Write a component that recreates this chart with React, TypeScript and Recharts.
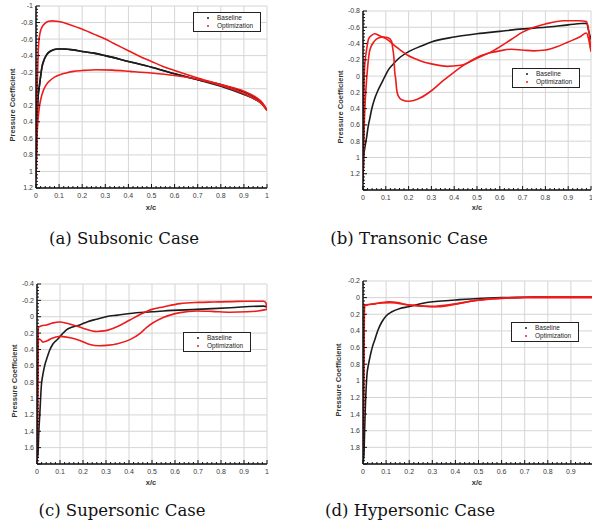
import React from 'react'
import { LineChart, Line, XAxis, YAxis, CartesianGrid, Legend } from 'recharts'

type Pt = [number, number]

// tick labels
const X_LABELS = [0, 0.1, 0.2, 0.3, 0.4, 0.5, 0.6, 0.7, 0.8, 0.9, 1]
const HYP_X_LABELS = [0, 0.1, 0.2, 0.3, 0.4, 0.5, 0.6, 0.7, 0.8, 0.9]
const SUB_Y_LABELS = [-1, -0.8, -0.6, -0.4, -0.2, 0, 0.2, 0.4, 0.6, 0.8, 1, 1.2]
const TRAN_Y_LABELS = [-0.8, -0.6, -0.4, -0.2, 0, 0.2, 0.4, 0.6, 0.8, 1, 1.2]
const SUP_Y_LABELS = [-0.4, -0.2, 0, 0.2, 0.4, 0.6, 0.8, 1, 1.2, 1.4, 1.6]
const HYP_Y_LABELS = [-0.2, 0, 0.2, 0.4, 0.6, 0.8, 1, 1.2, 1.4, 1.6, 1.8]

// (a) subsonic  [x/c, Cp]
const SUB_BASE_UPPER: Pt[] = [[0, 1.06], [0.003, 0.5], [0.006, 0.26], [0.009, 0.1], [0.014, -0.02], [0.02, -0.15], [0.025, -0.25], [0.035, -0.35], [0.046, -0.41], [0.06, -0.45], [0.075, -0.47], [0.095, -0.48], [0.12, -0.48], [0.16, -0.47], [0.2, -0.45], [0.25, -0.43], [0.3, -0.4], [0.4, -0.33], [0.5, -0.26], [0.6, -0.18], [0.7, -0.11], [0.8, -0.05], [0.9, 0.04], [0.95, 0.11], [0.98, 0.18], [1, 0.26]]
const SUB_BASE_LOWER: Pt[] = [[0, 1.06], [0.003, 0.5], [0.006, 0.26], [0.009, 0.1], [0.014, -0.02], [0.02, -0.15], [0.025, -0.25], [0.035, -0.35], [0.046, -0.41], [0.06, -0.45], [0.075, -0.47], [0.095, -0.48], [0.12, -0.48], [0.16, -0.47], [0.2, -0.45], [0.25, -0.43], [0.3, -0.4], [0.4, -0.33], [0.5, -0.26], [0.6, -0.18], [0.7, -0.11], [0.8, -0.03], [0.9, 0.07], [0.95, 0.13], [0.98, 0.19], [1, 0.26]]
const SUB_OPT_UPPER: Pt[] = [[0, 1.08], [0.002, 0.5], [0.005, 0.0], [0.008, -0.3], [0.01, -0.47], [0.017, -0.67], [0.027, -0.75], [0.039, -0.79], [0.055, -0.815], [0.07, -0.82], [0.09, -0.815], [0.118, -0.8], [0.15, -0.77], [0.19, -0.73], [0.25, -0.66], [0.3, -0.6], [0.335, -0.55], [0.4, -0.46], [0.45, -0.39], [0.5, -0.33], [0.55, -0.27], [0.6, -0.22], [0.7, -0.13], [0.8, -0.05], [0.9, 0.03], [0.95, 0.1], [0.98, 0.17], [1, 0.26]]
const SUB_OPT_LOWER: Pt[] = [[0, 1.08], [0.004, 0.62], [0.008, 0.4], [0.012, 0.28], [0.017, 0.18], [0.024, 0.09], [0.032, 0.02], [0.045, -0.05], [0.061, -0.1], [0.08, -0.14], [0.104, -0.17], [0.13, -0.19], [0.162, -0.21], [0.2, -0.22], [0.263, -0.23], [0.33, -0.225], [0.407, -0.21], [0.5, -0.19], [0.6, -0.16], [0.7, -0.115], [0.8, -0.04], [0.9, 0.06], [0.95, 0.13], [0.98, 0.19], [1, 0.26]]

// (b) transonic
const TRAN_BASE: Pt[] = [[0, 1.3], [0.003, 1.0], [0.01, 0.85], [0.016, 0.75], [0.022, 0.63], [0.03, 0.52], [0.037, 0.42], [0.051, 0.28], [0.065, 0.18], [0.081, 0.09], [0.095, 0.01], [0.11, -0.07], [0.13, -0.14], [0.154, -0.21], [0.2, -0.3], [0.256, -0.37], [0.3, -0.42], [0.4, -0.48], [0.5, -0.52], [0.6, -0.55], [0.7, -0.58], [0.8, -0.6], [0.9, -0.63], [0.981, -0.65], [0.99, -0.55], [1, -0.45]]
const TRAN_OPT_A: Pt[] = [[0, 1.3], [0.002, 0.6], [0.004, 0.2], [0.007, -0.11], [0.015, -0.31], [0.025, -0.46], [0.038, -0.5], [0.051, -0.52], [0.07, -0.5], [0.1, -0.46], [0.15, -0.35], [0.2, -0.25], [0.25, -0.19], [0.3, -0.15], [0.37, -0.12], [0.42, -0.13], [0.45, -0.15], [0.5, -0.22], [0.57, -0.31], [0.65, -0.45], [0.7, -0.54], [0.75, -0.6], [0.8, -0.64], [0.88, -0.68], [0.95, -0.68], [0.98, -0.67], [0.99, -0.56], [1, -0.31]]
const TRAN_OPT_B: Pt[] = [[0, 1.3], [0.003, 0.9], [0.006, 0.55], [0.012, 0.2], [0.02, -0.1], [0.03, -0.32], [0.05, -0.43], [0.07, -0.47], [0.09, -0.48], [0.11, -0.47], [0.125, -0.43], [0.13, -0.35], [0.136, -0.21], [0.139, -0.06], [0.144, 0.05], [0.147, 0.15], [0.154, 0.24], [0.17, 0.29], [0.2, 0.31], [0.25, 0.27], [0.3, 0.18], [0.35, 0.06], [0.4, -0.05], [0.45, -0.15], [0.5, -0.23], [0.55, -0.28], [0.6, -0.31], [0.65, -0.33], [0.7, -0.32], [0.75, -0.31], [0.8, -0.32], [0.85, -0.36], [0.9, -0.42], [0.95, -0.48], [0.98, -0.53], [0.99, -0.45], [1, -0.3]]

// (c) supersonic
const SUP_BASE: Pt[] = [[0, 1.75], [0.004, 1.69], [0.008, 1.4], [0.012, 1.2], [0.019, 0.84], [0.026, 0.7], [0.034, 0.59], [0.045, 0.49], [0.055, 0.41], [0.07, 0.33], [0.092, 0.27], [0.11, 0.21], [0.128, 0.16], [0.15, 0.13], [0.186, 0.1], [0.22, 0.06], [0.259, 0.03], [0.3, 0.0], [0.35, -0.02], [0.404, -0.04], [0.5, -0.06], [0.549, -0.07], [0.695, -0.09], [0.84, -0.11], [0.985, -0.13], [1, -0.12]]
const SUP_OPT_A: Pt[] = [[0, 1.75], [0.002, 1.2], [0.004, 0.5], [0.006, 0.13], [0.02, 0.11], [0.041, 0.1], [0.07, 0.075], [0.099, 0.065], [0.13, 0.08], [0.157, 0.1], [0.2, 0.14], [0.259, 0.18], [0.3, 0.17], [0.35, 0.12], [0.404, 0.04], [0.45, -0.03], [0.5, -0.09], [0.549, -0.12], [0.622, -0.16], [0.7, -0.175], [0.767, -0.18], [0.85, -0.185], [0.913, -0.19], [0.985, -0.19], [0.995, -0.17], [1, -0.1]]
const SUP_OPT_B: Pt[] = [[0, 1.75], [0.002, 1.4], [0.004, 0.8], [0.006, 0.27], [0.015, 0.28], [0.026, 0.31], [0.04, 0.3], [0.06, 0.27], [0.1, 0.24], [0.15, 0.26], [0.186, 0.29], [0.23, 0.34], [0.27, 0.355], [0.302, 0.35], [0.35, 0.33], [0.404, 0.28], [0.45, 0.2], [0.477, 0.13], [0.549, 0.01], [0.622, -0.05], [0.695, -0.07], [0.76, -0.065], [0.84, -0.055], [0.913, -0.06], [0.96, -0.07], [1, -0.09]]

// (d) hypersonic
const HYP_BASE: Pt[] = [[0, 1.97], [0.004, 1.89], [0.007, 1.6], [0.01, 1.33], [0.017, 0.93], [0.024, 0.8], [0.032, 0.69], [0.042, 0.58], [0.053, 0.49], [0.065, 0.39], [0.082, 0.29], [0.1, 0.22], [0.125, 0.17], [0.16, 0.13], [0.197, 0.11], [0.24, 0.08], [0.284, 0.055], [0.34, 0.04], [0.4, 0.028], [0.5, 0.01], [0.6, 0.0], [0.7, -0.005], [0.8, -0.01], [0.9, -0.01], [1, -0.01]]
const HYP_OPT_A: Pt[] = [[0, 1.85], [0.002, 1.3], [0.004, 0.5], [0.006, 0.1], [0.017, 0.09], [0.053, 0.075], [0.08, 0.06], [0.111, 0.05], [0.15, 0.06], [0.183, 0.08], [0.255, 0.1], [0.312, 0.11], [0.36, 0.1], [0.4, 0.08], [0.471, 0.04], [0.543, 0.015], [0.61, 0.005], [0.7, -0.005], [0.8, -0.01], [0.9, -0.01], [1, -0.01]]
const HYP_OPT_B: Pt[] = [[0, 1.85], [0.002, 1.5], [0.004, 0.8], [0.007, 0.09], [0.03, 0.08], [0.08, 0.065], [0.12, 0.06], [0.2, 0.09], [0.3, 0.105], [0.4, 0.075], [0.5, 0.03], [0.6, 0.01], [0.7, 0.0], [0.85, 0.0], [1, 0.0]]

const SANS = '"Liberation Sans", Arial, sans-serif'
const RED = '#ee1b1b'
const BLACK = '#1c1c1c'

function steps(lo: number, hi: number, step: number) {
  const n = Math.round((hi - lo) / step)
  return Array.from({ length: n + 1 }, (_, i) => +(lo + i * step).toFixed(3))
}
const onGrid = (v: number, step: number) => Math.abs(v / step - Math.round(v / step)) < 1e-6
const inList = (list: number[], v: number) => list.some(l => Math.abs(l - v) < 1e-6)

const X_TICKS = steps(0, 1, 0.02)

interface PanelCfg {
  left: number; top: number; width: number; height: number
  x0: number; x1: number; y0: number; y1: number
  xLabels: number[]
  yDomain: [number, number]
  yLabels: number[]
  baseline: Pt[][]
  optimization: Pt[][]
  legendAt: [number, number]
  yTitleAt: [number, number]
  xTitleAt: [number, number]
  caption: string
  captionAt: [number, number]
}

const PANELS: PanelCfg[] = [
  {
    left: 0, top: 0, width: 280, height: 215, x0: 36, x1: 267, y0: 6, y1: 188,
    xLabels: X_LABELS, yDomain: [-1, 1.2], yLabels: SUB_Y_LABELS,
    baseline: [SUB_BASE_UPPER, SUB_BASE_LOWER], optimization: [SUB_OPT_UPPER, SUB_OPT_LOWER],
    legendAt: [193, 12], yTitleAt: [12, 105], xTitleAt: [151, 207],
    caption: '(a) Subsonic Case', captionAt: [124, 238],
  },
  {
    left: 295, top: 0, width: 310, height: 215, x0: 363, x1: 591, y0: 11, y1: 190,
    xLabels: X_LABELS, yDomain: [-0.8, 1.4], yLabels: TRAN_Y_LABELS,
    baseline: [TRAN_BASE], optimization: [TRAN_OPT_A, TRAN_OPT_B],
    legendAt: [512, 68], yTitleAt: [340, 107], xTitleAt: [477, 207],
    caption: '(b) Transonic Case', captionAt: [409, 238],
  },
  {
    left: 0, top: 275, width: 280, height: 215, x0: 37, x1: 267, y0: 284, y1: 464,
    xLabels: X_LABELS, yDomain: [-0.4, 1.8], yLabels: SUP_Y_LABELS,
    baseline: [SUP_BASE], optimization: [SUP_OPT_A, SUP_OPT_B],
    legendAt: [183, 332], yTitleAt: [14, 381], xTitleAt: [151, 482],
    caption: '(c) Supersonic Case', captionAt: [122, 510],
  },
  {
    left: 295, top: 275, width: 315, height: 215, x0: 363, x1: 594, y0: 281, y1: 464,
    xLabels: HYP_X_LABELS, yDomain: [-0.2, 2.0], yLabels: HYP_Y_LABELS,
    baseline: [HYP_BASE], optimization: [HYP_OPT_A, HYP_OPT_B],
    legendAt: [511, 322], yTitleAt: [338, 380], xTitleAt: [477, 482],
    caption: '(d) Hypersonic Case', captionAt: [410, 510],
  },
]

const rows = (pts: Pt[]) => pts.map(([x, cp]) => ({ x, cp }))

function XTick(props: any, labels: number[]) {
  const { x, y, payload } = props
  const v = payload.value
  const major = onGrid(v, 0.1)
  return (
    <g>
      <line x1={x} x2={x} y1={y} y2={y - (major ? 4 : 2)} stroke="#111" strokeWidth={1} />
      {inList(labels, v) && (
        <text x={x} y={y + 5} dy="0.71em" textAnchor="middle" fontSize={7} fill="#3a3a3a" fontFamily={SANS}>
          {String(v)}
        </text>
      )}
    </g>
  )
}

function YTick(props: any, labels: number[]) {
  const { x, y, payload } = props
  const v = payload.value
  const major = onGrid(v, 0.2)
  return (
    <g>
      <line x1={x} x2={x + (major ? 4 : 2)} y1={y} y2={y} stroke="#111" strokeWidth={1} />
      {inList(labels, v) && (
        <text x={x - 3} y={y} dy="0.35em" textAnchor="end" fontSize={7} fill="#3a3a3a" fontFamily={SANS}>
          {String(v)}
        </text>
      )}
    </g>
  )
}

function LegendBox(props: any) {
  const seen = new Set<string>()
  const items = (props.payload || []).filter((e: any) => {
    if (e.type === 'none' || seen.has(e.value)) return false
    seen.add(e.value)
    return true
  })
  return (
    <div style={{ width: 66, height: 16, border: '1px solid #222', background: '#fff', padding: '1px 0', fontFamily: SANS, fontSize: 6.5, color: '#222', lineHeight: '8px' }}>
      {items.map((e: any) => (
        <div key={e.value} style={{ display: 'flex', alignItems: 'center', height: 8 }}>
          <span style={{ width: 2, height: 2, borderRadius: 1, background: e.color, marginLeft: 13, marginRight: 8 }} />
          <span>{e.value}</span>
        </div>
      ))}
    </div>
  )
}

function Panel({ cfg }: { cfg: PanelCfg }) {
  const margin = { top: cfg.y0 - cfg.top, right: cfg.left + cfg.width - cfg.x1, bottom: 0, left: 0 }
  const yAxisWidth = cfg.x0 - cfg.left
  const xAxisHeight = cfg.top + cfg.height - cfg.y1
  const [lo, hi] = cfg.yDomain
  const yTicks = steps(lo, hi, 0.04)
  const yMajor = steps(lo, hi, 0.2)
  return (
    <div style={{ position: 'absolute', left: cfg.left, top: cfg.top }}>
      <LineChart width={cfg.width} height={cfg.height} margin={margin}>
        <CartesianGrid stroke="#d5d5d5" strokeWidth={1} verticalValues={X_LABELS} horizontalValues={yMajor} />
        <XAxis
          type="number" dataKey="x" domain={[0, 1]} ticks={X_TICKS} interval={0} allowDataOverflow
          height={xAxisHeight} tickSize={0} tickMargin={0} tickLine={false}
          axisLine={{ stroke: '#111', strokeWidth: 1.5 }} tick={(p: any) => XTick(p, cfg.xLabels)}
        />
        <YAxis
          type="number" reversed domain={cfg.yDomain} ticks={yTicks} interval={0} allowDataOverflow
          width={yAxisWidth} tickSize={0} tickMargin={0} tickLine={false}
          axisLine={{ stroke: '#111', strokeWidth: 1.5 }} tick={(p: any) => YTick(p, cfg.yLabels)}
        />
        <Legend
          layout="horizontal" verticalAlign="middle" align="center"
          wrapperStyle={{ left: cfg.legendAt[0] - cfg.left, top: cfg.legendAt[1] - cfg.top, width: 68, height: 18 }}
          content={LegendBox}
        />
        {cfg.baseline.map((pts, i) => (
          <Line
            key={'b' + i} data={rows(pts)} dataKey="cp" name="Baseline" type="monotone"
            stroke={BLACK} strokeWidth={1.6} dot={false} activeDot={false}
            legendType={i === 0 ? 'circle' : 'none'} isAnimationActive={false}
          />
        ))}
        {cfg.optimization.map((pts, i) => (
          <Line
            key={'o' + i} data={rows(pts)} dataKey="cp" name="Optimization" type="monotone"
            stroke={RED} strokeWidth={1.6} dot={false} activeDot={false}
            legendType={i === 0 ? 'circle' : 'none'} isAnimationActive={false}
          />
        ))}
      </LineChart>
    </div>
  )
}

const titleStyle: React.CSSProperties = {
  position: 'absolute', fontFamily: SANS, fontWeight: 'bold', fontSize: 7.5, color: '#333', whiteSpace: 'nowrap',
}

export default function App() {
  return (
    <div style={{ position: 'absolute', left: 0, top: 0, width: 592, height: 526, overflow: 'hidden', background: '#fff' }}>
      {PANELS.map(cfg => (
        <React.Fragment key={cfg.caption}>
          <Panel cfg={cfg} />
          <div style={{ ...titleStyle, left: cfg.yTitleAt[0], top: cfg.yTitleAt[1], transform: 'translate(-50%, -50%) rotate(-90deg)' }}>
            Pressure Coefficient
          </div>
          <div style={{ ...titleStyle, left: cfg.xTitleAt[0], top: cfg.xTitleAt[1], transform: 'translate(-50%, -50%)' }}>
            x/c
          </div>
          <div style={{ position: 'absolute', left: cfg.captionAt[0], top: cfg.captionAt[1], transform: 'translate(-50%, -50%)', fontFamily: '"DejaVu Serif", serif', fontSize: 16.5, color: '#111', whiteSpace: 'nowrap' }}>
            {cfg.caption}
          </div>
        </React.Fragment>
      ))}
    </div>
  )
}
